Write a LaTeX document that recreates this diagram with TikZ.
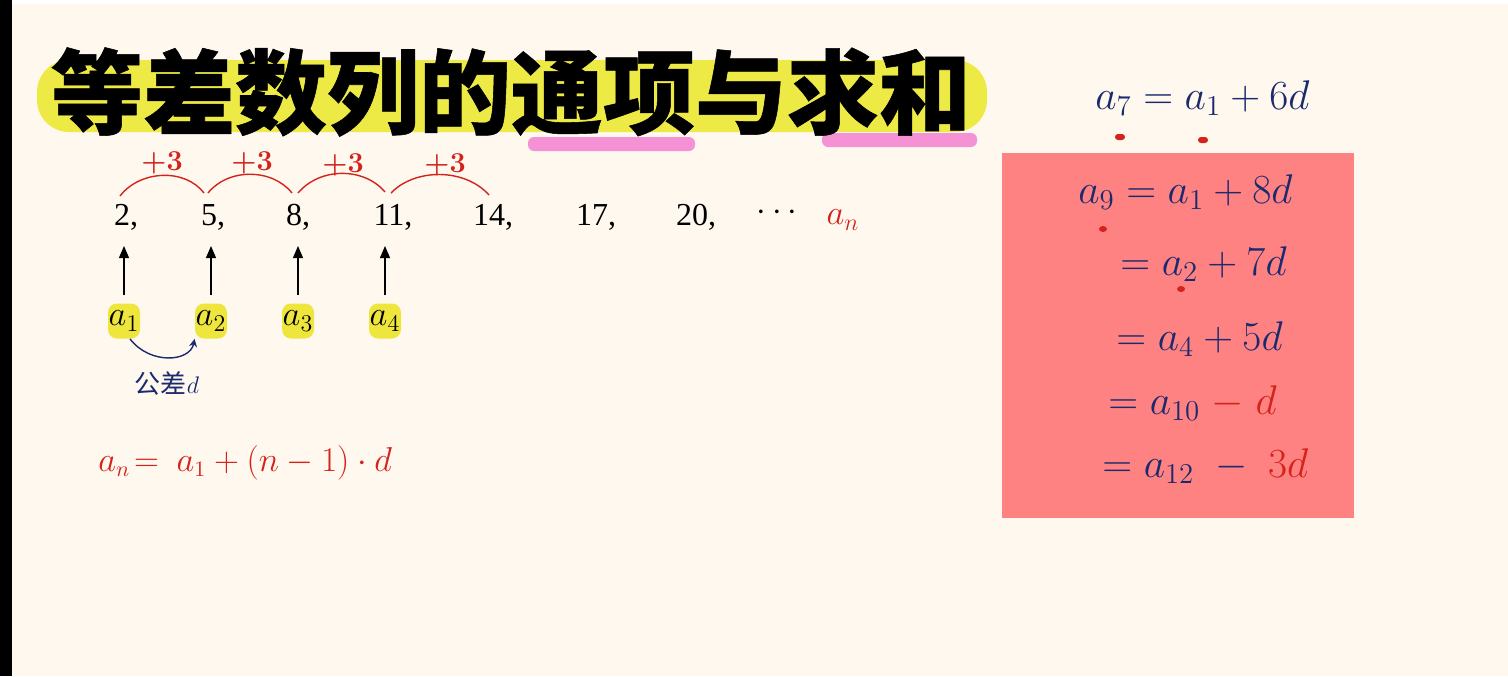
\documentclass[tikz,border=0pt]{standalone}
\usepackage{fontspec}
\setmainfont{Liberation Serif}
\newfontfamily\cjk{Noto Sans CJK SC}[BoldFeatures={FakeBold=0.6}]
\usetikzlibrary{arrows.meta,shapes.geometric}
\definecolor{cream}{HTML}{FFF8EF}
\definecolor{hlyellow}{HTML}{EEEA45}
\definecolor{hlpink}{HTML}{F592D6}
\definecolor{boxpink}{HTML}{FF8282}
\definecolor{navy}{HTML}{1B2A6E}
\definecolor{hred}{HTML}{D4231B}
\definecolor{ybox}{HTML}{EEE63C}
\tikzset{
  seq/.style={font=\fontsize{16}{18}\selectfont, text=black, inner sep=0pt},
  plus/.style={font=\fontsize{14}{16}\selectfont\boldmath, text=hred, inner sep=0pt},
  hop/.style={draw=hred, line width=0.7pt},
  upar/.style={draw=black, line width=0.6pt, -{Triangle[length=6pt,width=5pt]}},
  abox/.style={fill=ybox, rounded corners=4.5pt, minimum width=16pt, minimum height=17.5pt, inner sep=0pt, font=\fontsize{18}{20}\selectfont},
  hand/.style={font=\fontsize{20}{22}\selectfont, text=navy, inner sep=0pt, anchor=west},
  redmark/.style={fill=hred, inner sep=0pt},
}
\begin{document}
\begin{tikzpicture}[x=0.5pt,y=-0.5pt]
\useasboundingbox (0,0) rectangle (1508,676);
\fill[cream] (0,0) rectangle (1508,676);
\fill[white] (0,0) rectangle (1508,4);
\fill[black] (0,0) rectangle (12,676);

% title
\fill[hlyellow, rounded corners=16pt] (37,60) rectangle (987,132);
\fill[hlpink, rounded corners=3pt] (528,137) rectangle (695,151);
\fill[hlpink, rounded corners=3pt] (822,133) rectangle (977,147);
\node[font=\cjk\bfseries\fontsize{46}{46}\selectfont, inner sep=0pt] (title) at (511,92) {等差数列的通项与求和};

% sequence
\node[seq] (s1) at (126,217) {2,};
\node[seq] (s2) at (213,217) {5,};
\node[seq] (s3) at (298,217) {8,};
\node[seq] (s4) at (393,217) {11,};
\node[seq] (s5) at (493,217) {14,};
\node[seq] (s6) at (596,217) {17,};
\node[seq] (s7) at (696,217) {20,};
\node[seq] (s8) at (777,213) {$\cdots$};
\node[font=\fontsize{18}{18}\selectfont, text=hred, inner sep=0pt] (an) at (843,220) {$a_n$};

% hops
\coordinate (h0) at (120,196);
\coordinate (h1) at (204,193);
\coordinate (h2) at (208,193);
\coordinate (h3) at (292,193);
\coordinate (h4) at (298,193);
\coordinate (h5) at (385,192);
\coordinate (h6) at (391,193);
\coordinate (h7) at (489,195);
\draw[hop] (h0) .. controls (140,170) and (185,168) .. (h1);
\draw[hop] (h2) .. controls (228,168) and (272,168) .. (h3);
\draw[hop] (h4) .. controls (320,167) and (364,167) .. (h5);
\draw[hop] (h6) .. controls (415,168) and (465,168) .. (h7);
\node[plus] (p1) at (162,163) {$+3$};
\node[plus] (p2) at (252,163) {$+3$};
\node[plus] (p3) at (343,165) {$+3$};
\node[plus] (p4) at (445,165) {$+3$};

% a-boxes
\node[abox] (a1) at (124,321) {$a_1$};
\node[abox] (a2) at (211,321) {$a_2$};
\node[abox] (a3) at (298,321) {$a_3$};
\node[abox] (a4) at (385,321) {$a_4$};
\draw[upar] (a1.north |- 0,295) -- (a1.north |- 0,246);
\draw[upar] (a2.north |- 0,295) -- (a2.north |- 0,246);
\draw[upar] (a3.north |- 0,295) -- (a3.north |- 0,246);
\draw[upar] (a4.north |- 0,295) -- (a4.north |- 0,246);
\draw[navy, line width=0.7pt, -{Stealth[length=4pt,width=4pt]}] (a1.south) ++(6,0) .. controls (150,365) and (190,362) .. (a2.south west);
\node[font=\fontsize{13}{14}\selectfont, text=navy, inner sep=0pt] (gc) at (167,383) {\cjk 公差$d$};

% general term
\node[font=\fontsize{16}{18}\selectfont, text=hred, inner sep=0pt, anchor=west] (gt) at (98,463) {$a_n\!= \ a_1 + (n-1)\cdot d$};

% right side
\node[hand] (r0) at (1095,98) {$a_7 = a_1 + 6d$};
\node[redmark, shape=rectangle, minimum width=5pt, minimum height=3pt, rounded corners=1.5pt] (m1) at (1120,137) {};
\node[redmark, shape=rectangle, minimum width=5pt, minimum height=3pt, rounded corners=1.5pt] (m2) at (1203,140) {};

\fill[boxpink] (1002,153) rectangle (1354,518);
\node[hand] (r1) at (1078,192) {$a_9 = a_1 + 8d$};
\node[hand] (r2) at (1120,264) {$= a_2 + 7d$};
\node[hand] (r3) at (1116,339) {$= a_4 + 5d$};
\node[hand] (r4) at (1108,403) {$= a_{10} \;{\color{hred}-\; d}$};
\node[hand] (r5) at (1102,466) {$= a_{12} \;-\; {\color{hred}3d}$};
\node[redmark, shape=ellipse, minimum width=4pt, minimum height=3pt] (m3) at (1103,229) {};
\node[redmark, shape=ellipse, minimum width=4pt, minimum height=3pt] (m4) at (1181,289) {};
\end{tikzpicture}
\end{document}
